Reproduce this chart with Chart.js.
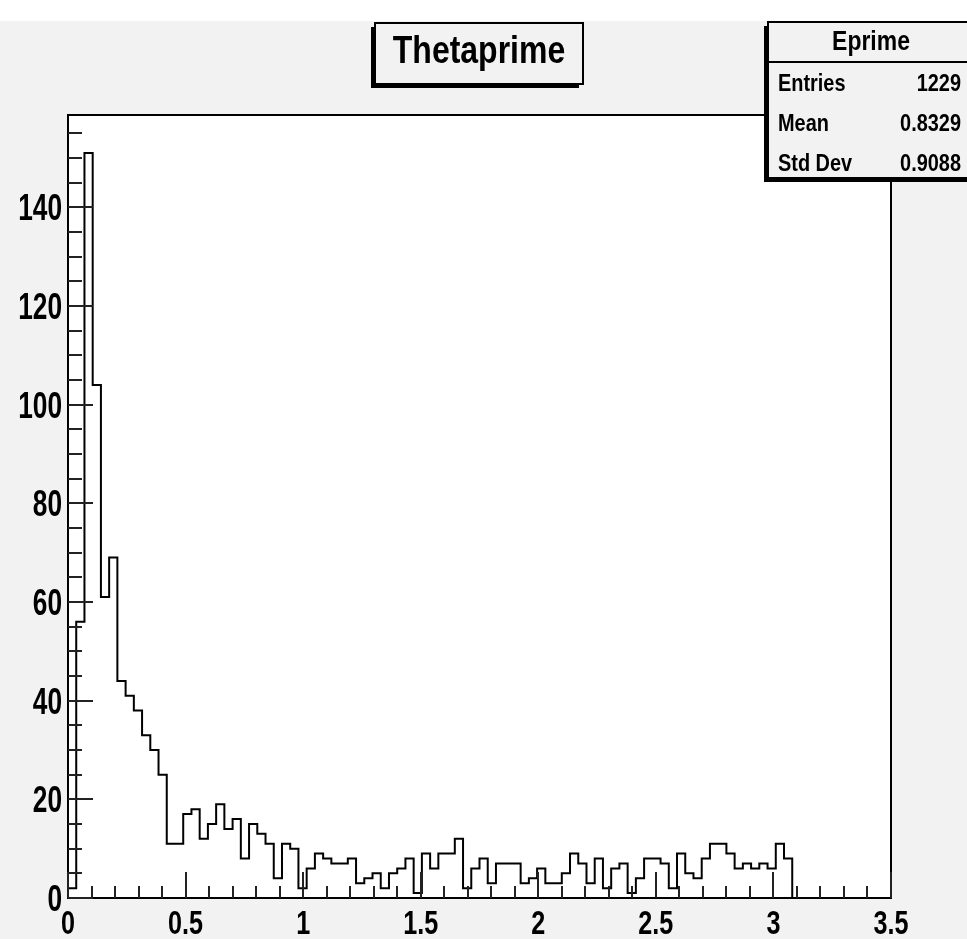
<!DOCTYPE html>
<html>
<head>
<meta charset="utf-8">
<script src="https://cdn.jsdelivr.net/npm/chart.js@4.4.0/dist/chart.umd.min.js"></script>
<style>
    html, body { margin: 0; padding: 0; background: #ffffff; }
    canvas { display: block; }
</style>
</head>
<body>
<canvas id="histChart" width="967" height="939"></canvas>
<script>
// histogram: 100 bins from 0 to 3.5
const binLow = 0;
const binHigh = 3.5;
const binCounts = [
    2, 56, 151, 104, 61, 69, 44, 41, 38, 33,
    30, 25, 11, 11, 17, 18, 12, 15, 19, 14,
    16, 8, 15, 13, 11, 4, 11, 10, 2, 6,
    9, 8, 7, 7, 8, 3, 4, 5, 2, 5,
    6, 8, 1, 9, 6, 9, 9, 12, 2, 6,
    8, 3, 7, 7, 7, 3, 4, 6, 3, 3,
    5, 9, 7, 3, 8, 2, 6, 7, 1, 4,
    8, 8, 7, 2, 9, 5, 4, 8, 11, 11,
    9, 6, 7, 6, 7, 6, 11, 8, 0, 0,
    0, 0, 0, 0, 0, 0, 0, 0, 0, 0
];
const yMax = 158.7;

const xTickValues = [0, 0.5, 1, 1.5, 2, 2.5, 3, 3.5];
const xTickLabels = ['0', '0.5', '1', '1.5', '2', '2.5', '3', '3.5'];
const xMinorStep = 0.1;
const yTickValues = [0, 20, 40, 60, 80, 100, 120, 140];
const yTickLabels = ['0', '20', '40', '60', '80', '100', '120', '140'];
const yMinorStep = 5;

const histTitle = 'Thetaprime';
const statsName = 'Eprime';
const statsLabels = ['Entries', 'Mean', 'Std Dev'];
const statsValues = ['1229', '0.8329', '0.9088'];

const padColor = '#f2f2f2';
const fontFamily = '"Liberation Sans", Arial, Helvetica, sans-serif';

document.addEventListener('DOMContentLoaded', function() {
    const ctx = document.getElementById('histChart').getContext('2d');

    const binWidth = (binHigh - binLow) / binCounts.length;
    const points = [{ x: binLow, y: 0 }];
    binCounts.forEach((count, i) => {
        points.push({ x: binLow + i * binWidth, y: count });
    });
    points.push({ x: binHigh, y: 0 });

    function drawText(c, text, x, y, size, align, squeeze) {
        c.save();
        c.font = 'bold ' + size + 'px ' + fontFamily;
        c.textAlign = align;
        c.textBaseline = 'alphabetic';
        c.fillStyle = '#000000';
        c.translate(x, y);
        c.scale(squeeze, 1);
        c.fillText(text, 0, 0);
        c.restore();
    }

    function drawBox(c, left, top, right, bottom) {
        // shadow down and to the left, like the ROOT canvas
        c.fillStyle = '#000000';
        c.fillRect(left - 4, top + 4, right - left, bottom - top);
        c.fillStyle = padColor;
        c.fillRect(left, top, right - left, bottom - top);
        c.strokeStyle = '#000000';
        c.lineWidth = 2;
        c.strokeRect(left, top, right - left, bottom - top);
    }

    const rootFrame = {
        id: 'rootFrame',
        beforeDraw(chart) {
            const c = chart.ctx;
            const area = chart.chartArea;
            c.save();
            c.fillStyle = '#ffffff';
            c.fillRect(0, 0, chart.width, chart.height);
            c.fillStyle = padColor;
            c.fillRect(0, 21, chart.width, chart.height - 21);
            c.fillStyle = '#ffffff';
            c.fillRect(area.left, area.top, area.right - area.left, area.bottom - area.top);
            c.restore();
        },
        afterDraw(chart) {
            const c = chart.ctx;
            const area = chart.chartArea;
            const xs = chart.scales.x;
            const ys = chart.scales.y;
            c.save();

            // frame
            c.strokeStyle = '#000000';
            c.lineWidth = 2;
            c.strokeRect(area.left, area.top, area.right - area.left, area.bottom - area.top);

            // ticks inside the frame
            c.lineWidth = 2;
            c.strokeStyle = '#222222';
            c.beginPath();
            for (let v = 0; v <= yMax; v += yMinorStep) {
                const py = Math.round(ys.getPixelForValue(v));
                const len = yTickValues.includes(v) ? 25 : 14;
                c.moveTo(area.left, py);
                c.lineTo(area.left + len, py);
            }
            for (let k = 0; k * xMinorStep <= binHigh + 1e-9; k++) {
                const v = k * xMinorStep;
                const px = Math.round(xs.getPixelForValue(v));
                const major = xTickValues.some(t => Math.abs(t - v) < 1e-9);
                c.moveTo(px, area.bottom);
                c.lineTo(px, area.bottom - (major ? 26 : 12));
            }
            c.stroke();

            // tick labels
            yTickValues.forEach((v, i) => {
                drawText(c, yTickLabels[i], 62, ys.getPixelForValue(v) + 13, 37, 'right', 0.71);
            });
            xTickValues.forEach((v, i) => {
                drawText(c, xTickLabels[i], xs.getPixelForValue(v), 934, 34, 'center', 0.74);
            });

            // title box
            drawBox(c, 375, 23, 583, 84);
            drawText(c, histTitle, 479, 63, 39, 'center', 0.82);

            // stats box
            drawBox(c, 768, 22, 980, 178);
            c.beginPath();
            c.moveTo(768, 62);
            c.lineTo(980, 62);
            c.stroke();
            drawText(c, statsName, 871, 50, 27, 'center', 0.85);
            statsLabels.forEach((label, i) => {
                const by = 91 + i * 40;
                drawText(c, label, 778, by, 24, 'left', 0.83);
                drawText(c, statsValues[i], 961, by, 24, 'right', 0.83);
            });

            c.restore();
        }
    };

    new Chart(ctx, {
        type: 'line',
        data: {
            datasets: [{
                label: histTitle,
                data: points,
                stepped: true,
                borderColor: '#000000',
                borderWidth: 2,
                pointRadius: 0,
                fill: false
            }]
        },
        options: {
            responsive: false,
            animation: false,
            layout: {
                padding: { left: 68, top: 115, right: 76, bottom: 41 }
            },
            scales: {
                x: { type: 'linear', min: binLow, max: binHigh, display: false },
                y: { min: 0, max: yMax, display: false }
            },
            plugins: {
                legend: { display: false },
                tooltip: { enabled: false }
            }
        },
        plugins: [rootFrame]
    });
});
</script>
</body>
</html>
